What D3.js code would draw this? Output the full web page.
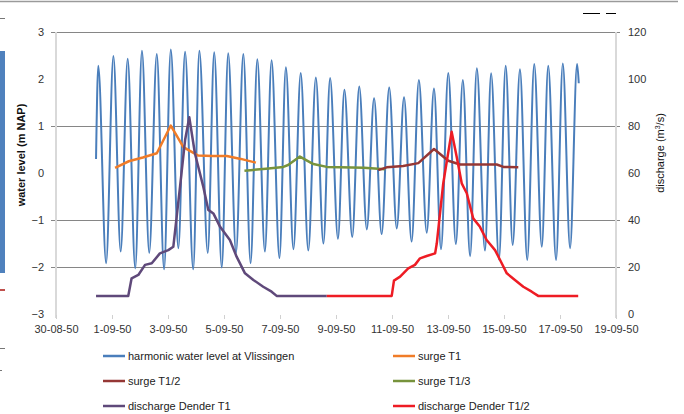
<!DOCTYPE html>
<html>
<head>
<meta charset="utf-8">
<script src="https://cdn.jsdelivr.net/npm/d3@7"></script>
<style>
  body { margin: 0; background: #fff; }
  svg { display: block; font-family: "Liberation Sans", Arial, sans-serif; }
</style>
</head>
<body>
<svg id="chart" width="684" height="414"></svg>
<script>
// days after 30-08-50 00:00, alternating high / low water
const tideDays = [1.43, 1.51, 1.79, 2.05, 2.31, 2.56, 2.83, 3.07, 3.33, 3.60, 3.86, 4.10, 4.37, 4.61, 4.90,
  5.12, 5.42, 5.65, 5.92, 6.15, 6.43, 6.69, 6.95, 7.19, 7.46, 7.70, 7.98, 8.21, 8.48, 8.74, 9.01, 9.28, 9.55,
  9.79, 10.07, 10.30, 10.58, 10.83, 11.10, 11.36, 11.63, 11.90, 12.17, 12.43, 12.70, 12.96, 13.24, 13.50,
  13.75, 14.01, 14.28, 14.53, 14.79, 15.03, 15.32, 15.54, 15.82, 16.06, 16.31, 16.57, 16.83, 17.08, 17.35,
  17.58, 17.86, 18.10, 18.36, 18.61, 18.67];
const tideLevel = [0.30, 2.28, -1.92, 2.49, -1.67, 2.43, -2.03, 2.60, -1.70, 2.53, -2.05, 2.63, -1.60, 2.58, -2.05,
  2.60, -1.70, 2.57, -2.01, 2.55, -1.70, 2.53, -1.92, 2.42, -1.67, 2.40, -1.81, 2.25, -1.62, 2.13, -1.65, 2.03, -1.50,
  2.02, -1.40, 1.77, -1.36, 1.84, -1.20, 1.59, -1.30, 1.82, -1.18, 1.61, -1.46, 1.98, -1.27, 1.80,
  -1.62, 2.13, -1.51, 1.98, -1.77, 2.23, -1.65, 2.12, -1.84, 2.28, -1.53, 2.21, -1.85, 2.32, -1.57,
  2.28, -1.85, 2.33, -1.60, 2.32, 1.91];

const surgeT1Days = [2.11, 2.60, 3.10, 3.60, 4.10, 4.55, 5.08, 5.60, 6.10, 6.60, 7.14];
const surgeT1 = [0.11, 0.25, 0.33, 0.42, 1.01, 0.55, 0.37, 0.36, 0.36, 0.30, 0.22];

const surgeT13Days = [6.73, 7.50, 8.12, 8.29, 8.71, 9.19, 9.67, 10.14, 11.00, 11.75];
const surgeT13 = [0.05, 0.09, 0.13, 0.17, 0.35, 0.19, 0.13, 0.12, 0.11, 0.08];

const surgeT12Days = [11.51, 11.81, 12.40, 12.94, 13.50, 14.01, 14.43, 15.10, 15.74, 15.98, 16.51];
const surgeT12 = [0.06, 0.12, 0.15, 0.21, 0.51, 0.26, 0.18, 0.18, 0.18, 0.13, 0.12];

const dischT1Days = [1.43, 2.58, 2.70, 2.94, 3.18, 3.42, 3.71, 4.01, 4.19, 4.43, 4.61, 4.76, 4.96, 5.26, 5.44,
  5.62, 5.86, 6.21, 6.45, 6.75, 7.05, 7.40, 7.70, 7.88, 9.67];
const dischT1 = [7.7, 7.7, 15.2, 16.6, 20.9, 21.6, 25.8, 27.2, 28.6, 54.2, 74.0, 83.7, 68.4, 54.2, 44.3,
  42.8, 37.1, 31.5, 24.4, 17.3, 14.5, 11.6, 9.5, 7.7, 7.7];

const dischT12Days = [9.67, 11.99, 12.07, 12.29, 12.58, 12.82, 13.00, 13.24, 13.54, 13.60, 13.83, 14.13, 14.31,
  14.49, 14.67, 14.90, 15.14, 15.38, 15.68, 15.86, 16.10, 16.39, 16.69, 16.99, 17.22, 18.65];
const dischT12 = [7.7, 7.7, 14.2, 15.9, 19.4, 20.9, 23.7, 24.7, 25.8, 30.1, 55.6, 77.6, 66.9,
  55.6, 51.4, 40.7, 37.1, 31.5, 27.2, 23.0, 17.3, 14.5, 11.6, 9.5, 7.7, 7.7];

const leftTicks = [-3, -2, -1, 0, 1, 2, 3];
const rightTicks = [0, 20, 40, 60, 80, 100, 120];
const gridLevels = [3, 1, -1, -2];

const legendNames = ["harmonic water level at Vlissingen", "surge T1", "surge T1/2",
  "surge T1/3", "discharge Dender T1", "discharge Dender T1/2"];
const legendColors = ["#4a7ebb", "#f07c28", "#953735", "#77933c", "#5f497a", "#ee1c24"];

const svg = d3.select("#chart");
const marginLeft = 56, marginRight = 68, marginTop = 32, marginBottom = 100;
const width = 684, height = 414;

const start = Date.UTC(1950, 7, 30);
const end = Date.UTC(1950, 8, 19);
const toDate = (d) => new Date(start + d * 864e5);

const x = d3.scaleUtc([start, end], [marginLeft, width - marginRight]);
const y = d3.scaleLinear([-3, 3], [height - marginBottom, marginTop]);
const y2 = d3.scaleLinear([0, 120], [height - marginBottom, marginTop]);

// stray bits of the original document around the chart
svg.append("line").attr("x1", 0).attr("x2", 678).attr("y1", 1.5).attr("y2", 1.5)
  .attr("stroke", "#9a9a9a").attr("stroke-width", 1.5);
svg.append("g").attr("stroke", "#000").selectAll("line")
  .data([[583, 600], [606, 616]]).join("line")
  .attr("x1", (d) => d[0]).attr("x2", (d) => d[1]).attr("y1", 13.5).attr("y2", 13.5);
svg.append("rect").attr("x", 0).attr("y", 51).attr("width", 5).attr("height", 222).attr("fill", "#4f81bd");
svg.append("rect").attr("x", 0).attr("y", 289).attr("width", 5).attr("height", 2).attr("fill", "#c0504d");
svg.append("g").attr("stroke", "#777").selectAll("line")
  .data([[18, 5], [348, 5], [370, 2]]).join("line")
  .attr("x1", 0).attr("x2", (d) => d[1]).attr("y1", (d) => d[0] + 0.5).attr("y2", (d) => d[0] + 0.5);

// gridlines
svg.append("g").attr("stroke", "#868686").selectAll("line")
  .data(gridLevels).join("line")
  .attr("x1", marginLeft - 5).attr("x2", width - marginRight + 4)
  .attr("y1", (d) => Math.round(y(d)) + 0.5).attr("y2", (d) => Math.round(y(d)) + 0.5);

// axis lines
svg.append("g").attr("stroke", "#d9d9d9").attr("stroke-width", 2).selectAll("line")
  .data([start, end]).join("line")
  .attr("x1", (d) => x(d)).attr("x2", (d) => x(d))
  .attr("y1", marginTop).attr("y2", height - marginBottom + 4);

// x axis
const xTicks = d3.utcDay.range(new Date(start), new Date(end + 864e5), 2);
const fmt = d3.utcFormat("%-d-%m-%y");
const xAxis = svg.append("g")
  .attr("transform", `translate(0,${height - marginBottom})`)
  .call(d3.axisBottom(x).tickValues(xTicks).tickFormat(fmt).tickSize(5).tickPadding(6));
xAxis.select(".domain").remove();
xAxis.selectAll(".tick line").attr("stroke", "#d0d0d0").attr("y1", 1);
xAxis.selectAll(".tick text").attr("fill", "#333").attr("font-size", 11)
  .attr("font-family", "Liberation Sans, Arial, sans-serif");

// left axis
const yAxis = svg.append("g")
  .attr("transform", `translate(${marginLeft},0)`)
  .call(d3.axisLeft(y).tickValues(leftTicks).tickFormat(d3.format("d")).tickSize(0).tickPadding(12));
yAxis.select(".domain").remove();
yAxis.selectAll(".tick text").attr("fill", "#333").attr("font-size", 11)
  .attr("font-family", "Liberation Sans, Arial, sans-serif");

// right axis
const y2Axis = svg.append("g")
  .attr("transform", `translate(${width - marginRight},0)`)
  .call(d3.axisRight(y2).tickValues(rightTicks).tickFormat(d3.format("d")).tickSize(0).tickPadding(12));
y2Axis.select(".domain").remove();
y2Axis.selectAll(".tick text").attr("fill", "#333").attr("font-size", 11)
  .attr("font-family", "Liberation Sans, Arial, sans-serif");

// axis titles
svg.append("text")
  .attr("transform", "translate(25,155) rotate(-90)")
  .attr("text-anchor", "middle").attr("font-size", 11).attr("font-weight", "bold").attr("fill", "#111")
  .text("water level (m NAP)");
const t2 = svg.append("text")
  .attr("transform", "translate(664,153) rotate(-90)")
  .attr("text-anchor", "middle").attr("font-size", 11).attr("fill", "#111");
t2.append("tspan").text("discharge (m");
t2.append("tspan").attr("font-size", 7).attr("dy", -4).text("3");
t2.append("tspan").attr("dy", 4).text("/s)");

// series
const plot = svg.append("g").attr("fill", "none").attr("stroke-linejoin", "round");

const tideLine = d3.line().x((d) => x(toDate(d[0]))).y((d) => y(d[1])).curve(d3.curveMonotoneX);
plot.append("path")
  .attr("stroke", legendColors[0]).attr("stroke-width", 2)
  .attr("d", tideLine(d3.zip(tideDays, tideLevel)));

const levelLine = d3.line().x((d) => x(toDate(d[0]))).y((d) => y(d[1]));
const flowLine = d3.line().x((d) => x(toDate(d[0]))).y((d) => y2(d[1]));

plot.append("path").attr("stroke", legendColors[1]).attr("stroke-width", 2.5)
  .attr("d", levelLine(d3.zip(surgeT1Days, surgeT1)));
plot.append("path").attr("stroke", legendColors[3]).attr("stroke-width", 2.5)
  .attr("d", levelLine(d3.zip(surgeT13Days, surgeT13)));
plot.append("path").attr("stroke", legendColors[2]).attr("stroke-width", 2.5)
  .attr("d", levelLine(d3.zip(surgeT12Days, surgeT12)));
plot.append("path").attr("stroke", legendColors[4]).attr("stroke-width", 2.5)
  .attr("d", flowLine(d3.zip(dischT1Days, dischT1)));
plot.append("path").attr("stroke", legendColors[5]).attr("stroke-width", 2.5)
  .attr("d", flowLine(d3.zip(dischT12Days, dischT12)));

// legend
const legend = svg.append("g").selectAll("g")
  .data(legendNames).join("g")
  .attr("transform", (d, i) => `translate(${i % 2 ? 393 : 103},${356 + Math.floor(i / 2) * 25})`);
legend.append("line").attr("x1", 0).attr("x2", 22)
  .attr("stroke", (d, i) => legendColors[i]).attr("stroke-width", 2.5);
legend.append("text").attr("x", 25).attr("dy", "0.35em")
  .attr("font-size", 11).attr("fill", "#222").text((d) => d);
</script>
</body>
</html>
